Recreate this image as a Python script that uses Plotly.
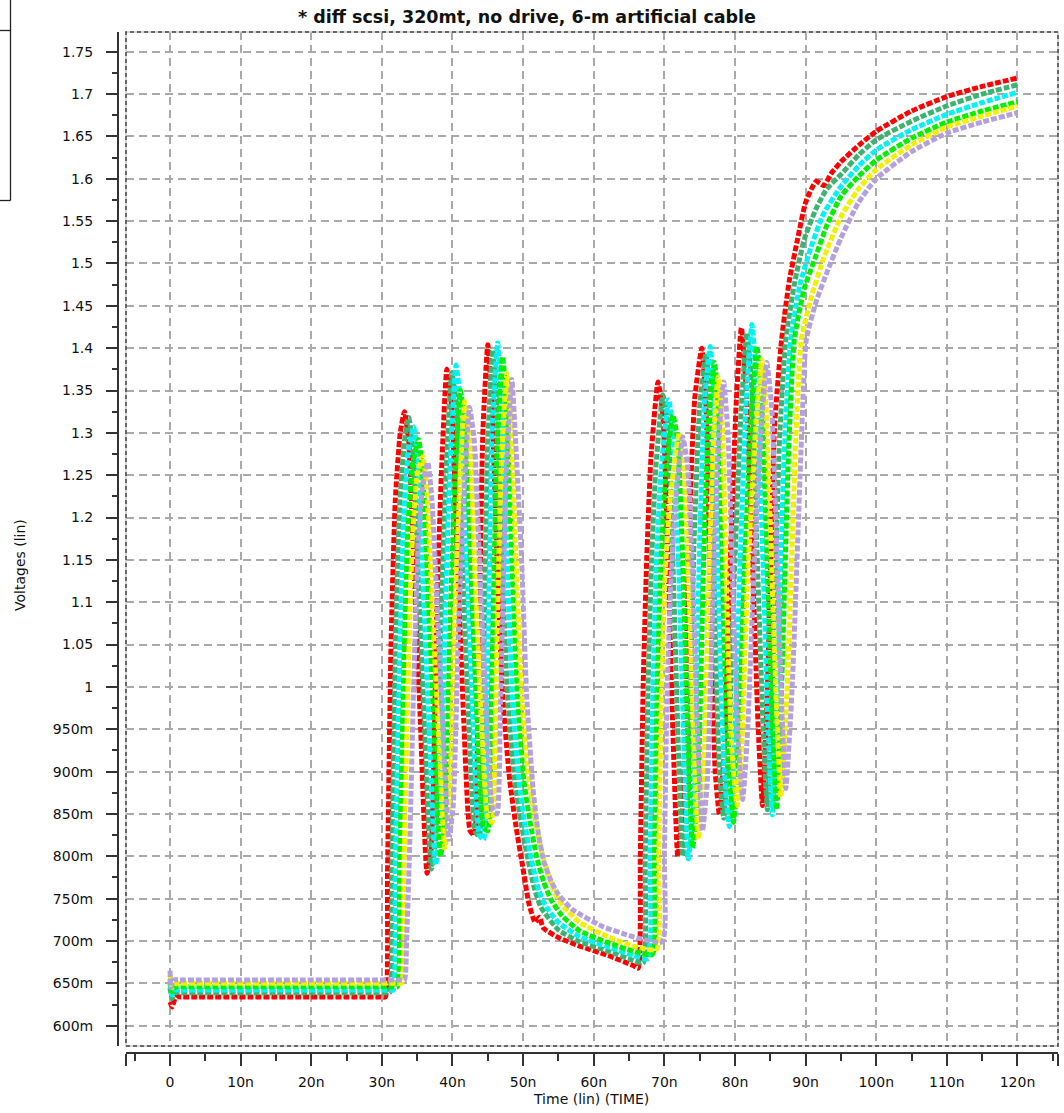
import plotly.graph_objects as go

# ---------------- data ----------------
title_text = "* diff scsi, 320mt, no drive, 6-m artificial cable"
x_title = "Time (lin) (TIME)"
y_title = "Voltages (lin)"

x_tick_vals = [0, 10, 20, 30, 40, 50, 60, 70, 80, 90, 100, 110, 120]
x_tick_text = ["0", "10n", "20n", "30n", "40n", "50n", "60n", "70n", "80n", "90n", "100n", "110n", "120n"]
x_minor_vals = [-5, 5, 15, 25, 35, 45, 55, 65, 75, 85, 95, 105, 115, 125]

y_tick_vals = [0.6, 0.65, 0.7, 0.75, 0.8, 0.85, 0.9, 0.95, 1.0, 1.05, 1.1, 1.15, 1.2, 1.25,
               1.3, 1.35, 1.4, 1.45, 1.5, 1.55, 1.6, 1.65, 1.7, 1.75]
y_tick_text = ["600m", "650m", "700m", "750m", "800m", "850m", "900m", "950m", "1", "1.05", "1.1",
               "1.15", "1.2", "1.25", "1.3", "1.35", "1.4", "1.45", "1.5", "1.55", "1.6", "1.65",
               "1.7", "1.75"]
y_minor_vals = [0.625, 0.675, 0.725, 0.775, 0.825, 0.875, 0.925, 0.975, 1.025, 1.075, 1.125,
                1.175, 1.225, 1.275, 1.325, 1.375, 1.425, 1.475, 1.525, 1.575, 1.625, 1.675,
                1.725]

# (time in ns, voltage in V)
red_pts = [
    (0, 0.628), (0.3, 0.622), (0.8, 0.634), (1.5, 0.634), (15.0, 0.634), (29.8, 0.634), (30.5, 0.634),
    (30.8, 0.78), (31.3, 1.05), (31.9, 1.22),
    (32.6, 1.30), (33.2, 1.325), (33.8, 1.29), (34.5, 1.15), (35.4, 0.97), (36.4, 0.78), (37.0, 0.81),
    (37.8, 1.10), (38.5, 1.265), (39.2, 1.375), (39.9, 1.33), (40.7, 1.15), (41.6, 0.96), (42.5, 0.83),
    (43.1, 0.825), (43.6, 0.98), (44.3, 1.30), (45.0, 1.404), (45.6, 1.33), (46.3, 1.15), (47.1, 0.99),
    (48.1, 0.89), (49.0, 0.835), (49.9, 0.79), (50.8, 0.745), (51.7, 0.722), (52.3, 0.728), (52.9, 0.715),
    (55.0, 0.704), (58.0, 0.694), (62.0, 0.683), (65.6, 0.671), (66.3, 0.668), (66.6, 0.80), (67.0, 1.0),
    (67.5, 1.15), (68.1, 1.27), (69.1, 1.36), (69.8, 1.32), (70.5, 1.15), (71.2, 0.95), (71.9, 0.80),
    (72.6, 0.86), (73.5, 1.18), (74.3, 1.34), (75.3, 1.40), (75.9, 1.33), (76.7, 1.03), (77.2, 0.90),
    (77.8, 0.849), (78.5, 0.93), (79.3, 1.14), (80.2, 1.34), (80.9, 1.424), (81.6, 1.35), (82.5, 1.14),
    (83.3, 0.95), (83.9, 0.86), (84.6, 1.0), (85.6, 1.307), (86.6, 1.41), (87.7, 1.48), (88.9, 1.53),
    (90.0, 1.572), (91.5, 1.597), (92.6, 1.592), (93.6, 1.606), (95.0, 1.62), (97.6, 1.64), (100, 1.656),
    (105, 1.68), (110, 1.697), (115, 1.709), (120, 1.719)]

seagreen_pts = [
    (0, 0.645), (0.3, 0.632), (0.8, 0.639), (1.5, 0.639), (15.0, 0.639), (30.4, 0.639), (31.1, 0.639),
    (31.4, 0.78), (31.9, 1.04), (32.5, 1.21),
    (33.2, 1.29), (33.8, 1.318), (34.4, 1.28), (35.1, 1.14), (36.0, 0.96), (37.0, 0.785), (37.6, 0.82),
    (38.4, 1.09), (39.1, 1.255), (39.9, 1.371), (40.6, 1.33), (41.4, 1.15), (42.3, 0.96), (43.2, 0.83),
    (43.8, 0.823), (44.3, 0.98), (45.0, 1.29), (45.7, 1.398), (46.3, 1.33), (47.0, 1.15), (47.8, 0.99),
    (48.8, 0.89), (49.7, 0.84), (50.6, 0.80), (51.5, 0.765), (52.5, 0.74), (55.0, 0.713), (58.0, 0.699),
    (62.0, 0.688), (65.6, 0.677), (67.0, 0.674), (67.3, 0.80), (67.7, 1.0), (68.2, 1.15), (68.8, 1.26),
    (69.8, 1.345), (70.5, 1.31), (71.2, 1.15), (71.9, 0.95), (72.6, 0.80), (73.3, 0.86), (74.2, 1.17),
    (75.0, 1.33), (75.9, 1.394), (76.5, 1.33), (77.3, 1.03), (77.8, 0.90), (78.4, 0.845), (79.1, 0.93),
    (79.9, 1.13), (80.9, 1.33), (81.7, 1.418), (82.4, 1.35), (83.2, 1.14), (84.0, 0.95), (84.6, 0.855),
    (85.3, 1.0), (86.3, 1.29), (87.2, 1.41), (88.4, 1.475), (89.8, 1.528), (91.5, 1.565), (93.0, 1.588),
    (95.0, 1.605), (97.5, 1.628), (100, 1.646), (105, 1.668), (110, 1.686), (115, 1.70), (120, 1.711)]

cyan_pts = [
    (0, 0.65), (0.3, 0.636), (0.8, 0.642), (1.5, 0.642), (15.0, 0.642), (30.9, 0.642), (31.6, 0.642),
    (31.9, 0.78), (32.5, 1.03), (33.1, 1.20),
    (33.8, 1.28), (34.5, 1.307), (35.1, 1.27), (35.8, 1.13), (36.7, 0.95), (37.6, 0.79), (38.2, 0.83),
    (39.0, 1.10), (39.7, 1.27), (40.5, 1.38), (41.2, 1.33), (42.0, 1.15), (42.9, 0.96), (43.8, 0.825),
    (44.4, 0.82), (44.9, 0.98), (45.6, 1.30), (46.4, 1.406), (47.0, 1.33), (47.7, 1.15), (48.5, 0.99),
    (49.4, 0.89), (50.3, 0.835), (51.2, 0.795), (52.2, 0.76), (53.3, 0.74), (55.0, 0.722), (58.0, 0.705),
    (62.0, 0.693), (65.6, 0.683), (67.7, 0.679), (68.0, 0.80), (68.4, 1.0), (68.9, 1.15), (69.5, 1.25),
    (70.6, 1.339), (71.3, 1.30), (72.0, 1.15), (72.7, 0.95), (73.4, 0.797), (74.1, 0.86), (75.0, 1.17),
    (75.7, 1.34), (76.5, 1.402), (77.1, 1.33), (77.9, 1.03), (78.5, 0.90), (79.2, 0.835), (79.9, 0.93),
    (80.7, 1.14), (81.6, 1.34), (82.4, 1.428), (83.1, 1.35), (84.0, 1.14), (84.7, 0.95), (85.3, 0.849),
    (86.0, 1.0), (87.0, 1.28), (87.9, 1.41), (89.2, 1.475), (90.8, 1.52), (92.5, 1.558), (95.0, 1.591),
    (97.5, 1.615), (100, 1.634), (105, 1.658), (110, 1.676), (115, 1.69), (120, 1.702)]

lime_pts = [
    (0, 0.655), (0.3, 0.64), (0.8, 0.646), (1.5, 0.646), (15.0, 0.646), (31.5, 0.646), (32.2, 0.646),
    (32.5, 0.78), (33.1, 1.02), (33.7, 1.19),
    (34.4, 1.265), (35.2, 1.292), (35.8, 1.25), (36.5, 1.12), (37.4, 0.95), (38.3, 0.80), (38.9, 0.84),
    (39.7, 1.09), (40.4, 1.25), (41.1, 1.35), (41.8, 1.31), (42.6, 1.14), (43.5, 0.96), (44.4, 0.835),
    (45.0, 0.83), (45.5, 0.98), (46.3, 1.28), (47.1, 1.39), (47.7, 1.32), (48.4, 1.15), (49.2, 0.99),
    (50.1, 0.89), (51.0, 0.84), (51.9, 0.80), (52.9, 0.77), (54.0, 0.748), (55.5, 0.73), (58.0, 0.712),
    (62.0, 0.698), (65.6, 0.688), (68.3, 0.684), (68.6, 0.80), (69.0, 1.0), (69.5, 1.14), (70.1, 1.24),
    (71.2, 1.321), (71.9, 1.29), (72.6, 1.15), (73.3, 0.95), (74.0, 0.81), (74.7, 0.87), (75.6, 1.16),
    (76.3, 1.32), (77.1, 1.383), (77.7, 1.32), (78.5, 1.04), (79.1, 0.91), (79.8, 0.84), (80.5, 0.93),
    (81.3, 1.13), (82.3, 1.32), (83.1, 1.402), (83.8, 1.34), (84.6, 1.14), (85.3, 0.96), (85.9, 0.855),
    (86.6, 1.0), (87.6, 1.28), (88.4, 1.41), (89.8, 1.47), (91.5, 1.51), (93.0, 1.545), (95.0, 1.579),
    (97.5, 1.603), (100, 1.622), (105, 1.648), (110, 1.667), (115, 1.68), (120, 1.691)]

yellow_pts = [
    (0, 0.66), (0.3, 0.645), (0.8, 0.650), (1.5, 0.650), (15.0, 0.650), (32.1, 0.650), (32.8, 0.650),
    (33.1, 0.78), (33.7, 1.0), (34.3, 1.17),
    (35.0, 1.25), (35.8, 1.272), (36.4, 1.23), (37.1, 1.10), (38.0, 0.95), (38.9, 0.81), (39.5, 0.85),
    (40.3, 1.08), (41.0, 1.23), (41.7, 1.337), (42.4, 1.30), (43.2, 1.13), (44.1, 0.96), (45.0, 0.845),
    (45.6, 0.84), (46.1, 0.98), (46.9, 1.26), (47.7, 1.37), (48.3, 1.31), (49.0, 1.15), (49.8, 0.99),
    (50.7, 0.90), (51.6, 0.85), (52.5, 0.81), (53.5, 0.78), (54.5, 0.757), (55.8, 0.74), (58.0, 0.722),
    (62.0, 0.705), (65.6, 0.694), (68.9, 0.690), (69.2, 0.80), (69.6, 1.0), (70.1, 1.13), (70.8, 1.22),
    (72.1, 1.30), (72.7, 1.27), (73.4, 1.14), (74.1, 0.95), (74.8, 0.82), (75.5, 0.88), (76.4, 1.15),
    (77.0, 1.30), (77.6, 1.366), (78.2, 1.31), (79.0, 1.05), (79.6, 0.92), (80.3, 0.86), (81.0, 0.94),
    (81.8, 1.13), (82.9, 1.30), (83.8, 1.386), (84.4, 1.33), (85.2, 1.14), (85.9, 0.97), (86.5, 0.87),
    (87.4, 1.0), (88.6, 1.29), (89.4, 1.41), (90.8, 1.46), (92.5, 1.505), (95.0, 1.555), (97.5, 1.588),
    (100, 1.611), (105, 1.64), (110, 1.661), (115, 1.674), (120, 1.686)]

lavender_pts = [
    (0, 0.665), (0.15, 0.645), (0.4, 0.654), (1.2, 0.654), (15.0, 0.654), (32.4, 0.654), (33.2, 0.654),
    (33.5, 0.70), (33.9, 0.80), (34.5, 1.0),
    (35.1, 1.16), (35.8, 1.24), (36.5, 1.265), (37.1, 1.22), (37.8, 1.10), (38.6, 0.96), (39.5, 0.82),
    (40.1, 0.86), (40.9, 1.08), (41.6, 1.22), (42.4, 1.33), (43.1, 1.29), (43.9, 1.13), (44.8, 0.97),
    (45.7, 0.855), (46.3, 0.85), (46.8, 0.98), (47.6, 1.25), (48.4, 1.363), (49.1, 1.265), (49.8, 1.147),
    (50.5, 0.99), (51.4, 0.88), (52.1, 0.83), (52.9, 0.795), (54.0, 0.77), (55.0, 0.755), (57.0, 0.737),
    (61.3, 0.717), (65.6, 0.705), (69.7, 0.699), (70.0, 0.80), (70.4, 1.0), (70.9, 1.12), (71.6, 1.22),
    (72.6, 1.295), (73.3, 1.26), (74.0, 1.13), (74.7, 0.95), (75.4, 0.83), (76.1, 0.89), (77.0, 1.14),
    (77.7, 1.29), (78.4, 1.36), (79.0, 1.30), (79.9, 1.06), (80.5, 0.93), (81.1, 0.867), (81.8, 0.95),
    (82.6, 1.12), (83.6, 1.29), (84.5, 1.383), (85.2, 1.33), (86.0, 1.14), (86.6, 0.98), (87.2, 0.88),
    (88.1, 1.0), (89.4, 1.29), (90.1, 1.41), (91.5, 1.455), (93.0, 1.489), (95.0, 1.53), (97.5, 1.572),
    (100, 1.60), (105, 1.632), (110, 1.654), (115, 1.667), (120, 1.678)]

series_names = ["red", "seagreen", "cyan", "lime", "yellow", "lavender"]
series_points = [red_pts, seagreen_pts, cyan_pts, lime_pts, yellow_pts, lavender_pts]
series_colors = ["#ff0000", "#3cb371", "#00f2f2", "#00f000", "#f0f000", "#b5a0df"]

# ---------------- layout geometry (pixels) ----------------
W, H = 1064, 1113
M_L, M_R, M_T, M_B = 118, 6, 32, 60
PW = W - M_L - M_R
PH = H - M_T - M_B
X_RANGE = [-6.23, 125.74]
Y_RANGE = [0.576, 1.7733]
FONT = "DejaVu Sans, Verdana, sans-serif"


def px_x(px):
    return (px - M_L) / PW


def px_y(py):
    return (H - M_B - py) / PH


x_dom = [px_x(126), 1.0]
y_dom = [px_y(1046), 1.0]

fig = go.Figure()

for name, pts, col in zip(series_names, series_points, series_colors):
    fig.add_trace(go.Scatter(
        x=[p[0] for p in pts], y=[p[1] for p in pts], name=name, mode="lines",
        line=dict(color=col, width=5, dash="6px,2px", shape="spline", smoothing=0.5),
        showlegend=False, hoverinfo="skip"))

# dummy trace so the outer (offset) axes get drawn
fig.add_trace(go.Scatter(x=[None], y=[None], xaxis="x2", yaxis="y2", showlegend=False,
                         hoverinfo="skip", mode="lines"))

grid_kw = dict(showgrid=True, gridcolor="#a9a9a9", griddash="8px,5px", gridwidth=1.5,
               zeroline=False, showline=False, ticks="", showticklabels=False)
axis_kw = dict(showline=True, linecolor="#333333", linewidth=2, ticks="outside",
               tickcolor="#333333", tickwidth=2, showgrid=False, zeroline=False,
               tickfont=dict(family=FONT, size=14, color="#111111"))

fig.update_layout(
    width=W, height=H, autosize=False,
    margin=dict(l=M_L, r=M_R, t=M_T, b=M_B, pad=0),
    paper_bgcolor="white", plot_bgcolor="white",
    xaxis=dict(domain=x_dom, range=X_RANGE, tickvals=x_tick_vals, **grid_kw),
    yaxis=dict(domain=y_dom, range=Y_RANGE, tickvals=y_tick_vals, **grid_kw),
    xaxis2=dict(overlaying="x", anchor="free", position=0, range=X_RANGE,
                tickvals=[X_RANGE[0]] + x_tick_vals + [X_RANGE[1]],
                ticktext=[""] + x_tick_text + [""], ticklen=12, ticklabelstandoff=4,
                minor=dict(ticks="outside", ticklen=7, tickwidth=2, tickcolor="#333333",
                           tickvals=x_minor_vals),
                **axis_kw),
    yaxis2=dict(overlaying="y", anchor="free", position=0, range=Y_RANGE,
                tickvals=y_tick_vals, ticktext=y_tick_text, ticklen=11, ticklabelstandoff=10,
                minor=dict(ticks="outside", ticklen=5, tickwidth=2, tickcolor="#333333",
                           tickvals=y_minor_vals),
                **axis_kw),
    showlegend=False,
)

# dashed plot-area border
fig.add_shape(type="rect", xref="paper", yref="paper", x0=x_dom[0], x1=1, y0=y_dom[0], y1=1,
              line=dict(color="#c8c8c8", width=1.5), layer="above")
fig.add_shape(type="rect", xref="paper", yref="paper", x0=x_dom[0], x1=1, y0=y_dom[0], y1=1,
              line=dict(color="#444444", width=1.5, dash="4px,3px"), layer="above")

# clipped legend box at top-left
box_line = dict(color="#222222", width=1.3)
fig.add_shape(type="line", xref="paper", yref="paper", x0=px_x(10.5), x1=px_x(10.5),
              y0=px_y(-2), y1=px_y(200.5), line=box_line)
fig.add_shape(type="line", xref="paper", yref="paper", x0=px_x(-2), x1=px_x(10.5),
              y0=px_y(30.5), y1=px_y(30.5), line=box_line)
fig.add_shape(type="line", xref="paper", yref="paper", x0=px_x(-2), x1=px_x(10.5),
              y0=px_y(200.5), y1=px_y(200.5), line=box_line)

# title and axis titles
fig.add_annotation(text="<b>" + title_text + "</b>", xref="paper", yref="paper",
                   x=px_x(527), y=px_y(17), showarrow=False, xanchor="center", yanchor="middle",
                   font=dict(family=FONT, size=17.5, color="#111111"))
fig.add_annotation(text=x_title, xref="paper", yref="paper", x=px_x(591), y=px_y(1099),
                   showarrow=False, xanchor="center", yanchor="middle",
                   font=dict(family=FONT, size=14, color="#111111"))
fig.add_annotation(text=y_title, xref="paper", yref="paper", x=px_x(20), y=px_y(565),
                   showarrow=False, xanchor="center", yanchor="middle", textangle=-90,
                   font=dict(family=FONT, size=14, color="#111111"))

fig.write_html("out.html")
